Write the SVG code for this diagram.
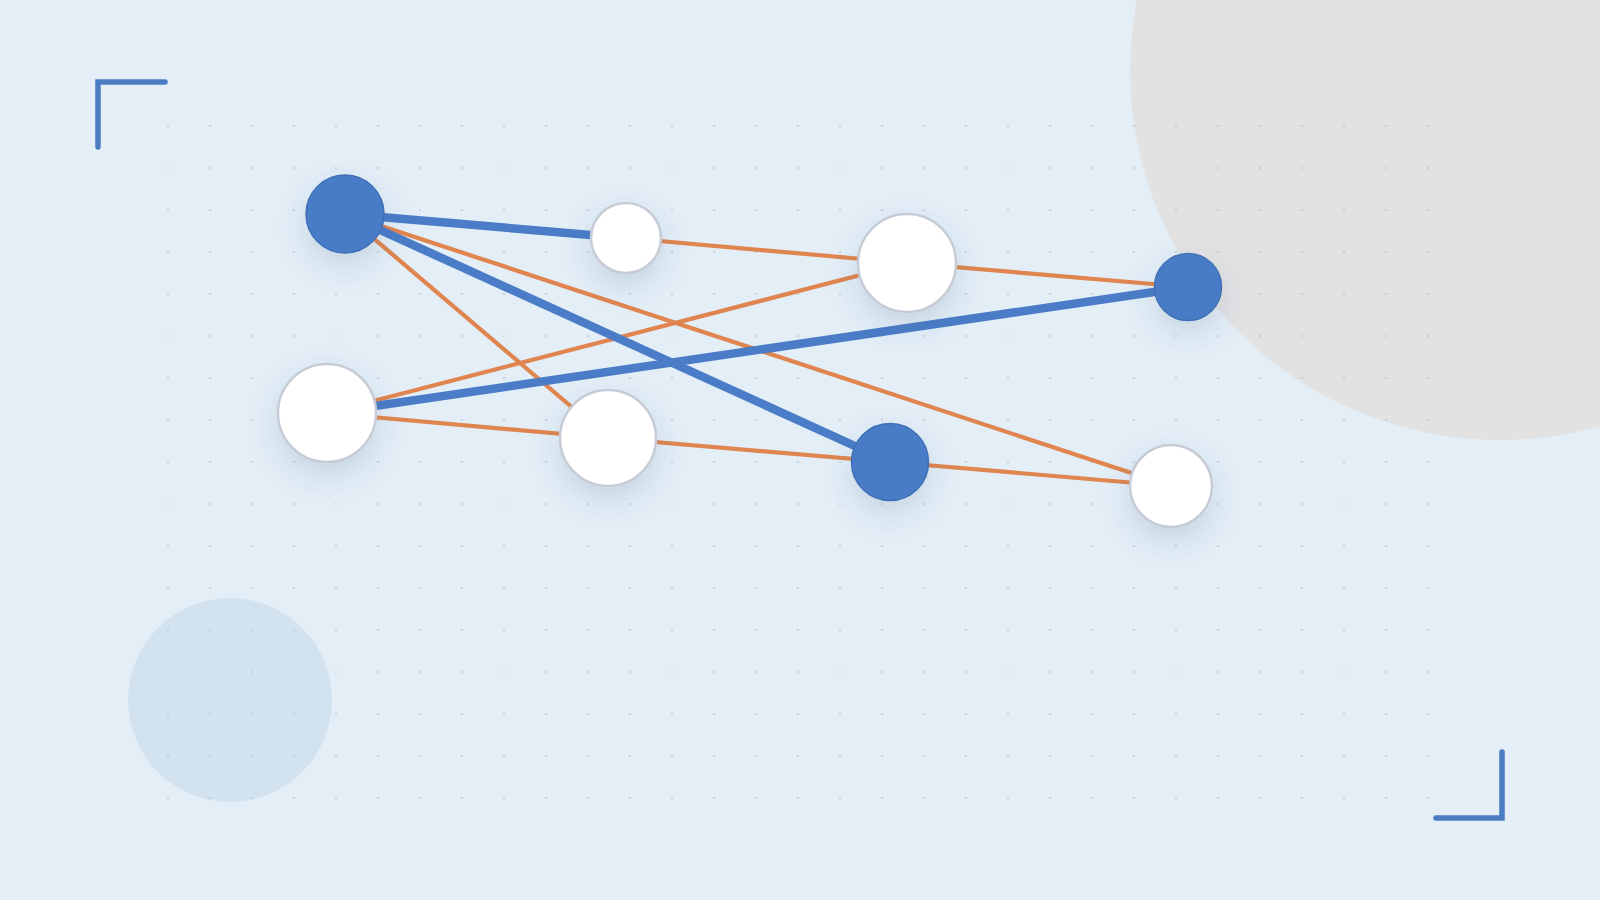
<svg xmlns="http://www.w3.org/2000/svg" width="1600" height="900" viewBox="0 0 1600 900">
  <defs>
    <style>
      .bg { fill: #e3eef7; }
      .deco-gray { fill: #e2e2e3; }
      .deco-blue { fill: #d2e3ef; }
      .bracket { fill: none; stroke: #4a7cc3; stroke-width: 5.5; stroke-linecap: round; stroke-linejoin: miter; }
      .edge-orange { stroke: #e0854f; stroke-width: 4.2; stroke-linecap: round; fill: none; }
      .edge-blue { stroke: #4a7cc7; stroke-width: 8.5; stroke-linecap: round; fill: none; }
      .node-white { fill: #ffffff; stroke: #c6ccd5; stroke-width: 2.5; }
      .node-blue { fill: #4a7cc7; stroke: #3f6fb6; stroke-width: 1.5; }
    </style>
    <pattern id="dots" x="147" y="105" width="42" height="42" patternUnits="userSpaceOnUse">
      <circle cx="21" cy="21" r="1.1" fill="#b2becb" fill-opacity="0.7"/>
    </pattern>
    <filter id="shadow" x="-80%" y="-80%" width="260%" height="280%">
      <feDropShadow dx="0" dy="12" stdDeviation="14" flood-color="#3a5a80" flood-opacity="0.17"/>
    </filter>
  </defs>

  <g id="background">
    <rect class="bg" x="0" y="0" width="1600" height="900"/>
    <circle class="deco-gray" cx="1500" cy="70" r="370"/>
    <circle class="deco-blue" cx="230" cy="700" r="102"/>
    <rect x="147" y="105" width="1302" height="714" fill="url(#dots)"/>
    <path class="bracket" d="M98,147 V82 H165"/>
    <path class="bracket" d="M1436,818 H1502 V752"/>
  </g>

  <g id="connectors">
    <line class="edge-orange" x1="345" y1="214" x2="608" y2="438"/>
    <line class="edge-orange" x1="345" y1="214" x2="1171" y2="486"/>
    <line class="edge-orange" x1="626" y1="238" x2="907" y2="263"/>
    <line class="edge-orange" x1="907" y1="263" x2="1188" y2="287"/>
    <line class="edge-orange" x1="327" y1="413" x2="907" y2="263"/>
    <line class="edge-orange" x1="327" y1="413" x2="608" y2="438"/>
    <line class="edge-orange" x1="608" y1="438" x2="890" y2="462"/>
    <line class="edge-orange" x1="890" y1="462" x2="1171" y2="486"/>
    <line class="edge-blue" x1="345" y1="214" x2="626" y2="238"/>
    <line class="edge-blue" x1="345" y1="214" x2="890" y2="462"/>
    <line class="edge-blue" x1="327" y1="413" x2="1188" y2="287"/>
  </g>

  <g id="node-a" filter="url(#shadow)"><circle class="node-blue" cx="345" cy="214" r="39"/></g>
  <g id="node-b" filter="url(#shadow)"><circle class="node-white" cx="626" cy="238" r="35"/></g>
  <g id="node-c" filter="url(#shadow)"><circle class="node-white" cx="907" cy="263" r="49"/></g>
  <g id="node-d" filter="url(#shadow)"><circle class="node-blue" cx="1188" cy="287" r="33.5"/></g>
  <g id="node-e" filter="url(#shadow)"><circle class="node-white" cx="327" cy="413" r="49"/></g>
  <g id="node-f" filter="url(#shadow)"><circle class="node-white" cx="608" cy="438" r="48"/></g>
  <g id="node-g" filter="url(#shadow)"><circle class="node-blue" cx="890" cy="462" r="38.5"/></g>
  <g id="node-h" filter="url(#shadow)"><circle class="node-white" cx="1171" cy="486" r="41"/></g>
</svg>
